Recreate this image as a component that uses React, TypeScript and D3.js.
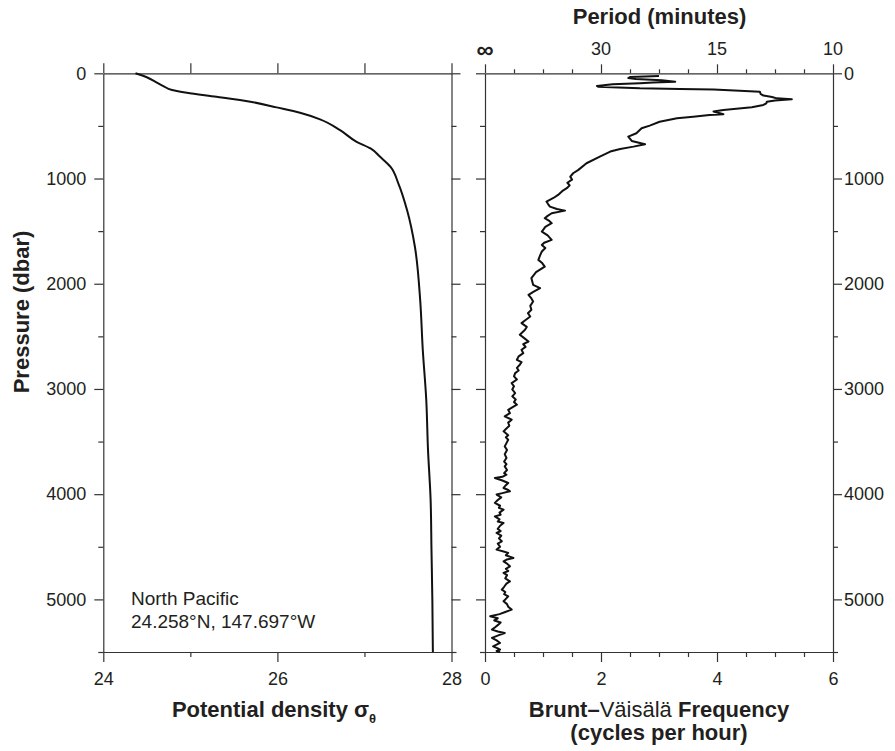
import React, { useEffect, useRef } from "react";
import * as d3 from "d3";

// ---------- data ----------
const sigmaPressure = [0, 38, 86, 121, 159, 185, 223, 270, 324, 375, 438, 540, 651, 714, 794, 889, 1048, 1302, 1651, 2153, 2628, 3102, 3577, 4052, 4527, 5002, 5500];
const sigmaTheta = [24.37, 24.5, 24.61, 24.69, 24.79, 24.96, 25.3, 25.69, 25.99, 26.26, 26.49, 26.72, 26.91, 27.07, 27.18, 27.3, 27.39, 27.49, 27.58, 27.64, 27.67, 27.71, 27.73, 27.76, 27.77, 27.78, 27.786];

const bvPressure = [
  25, 35, 45, 55, 65, 80, 88, 95, 105, 120, 127, 135, 143, 149, 155, 165, 175, 195, 212, 225, 238, 247, 258, 270, 285, 301, 323, 348, 364, 380, 389, 396, 412, 428, 460, 497, 522, 570, 602, 643, 675, 697, 719, 744, 792, 855, 918, 950, 982,
  1010, 1040, 1065, 1092, 1120, 1156, 1185, 1219, 1245, 1267, 1290, 1305, 1330, 1355, 1377, 1400, 1425, 1460, 1504, 1540, 1583, 1610, 1631, 1660, 1694, 1730, 1773, 1800, 1837, 1890, 1947, 2010, 2042, 2075, 2105, 2140, 2169, 2210, 2248, 2280, 2311, 2345, 2374, 2410, 2438,
  2485, 2510, 2549, 2575, 2600, 2628, 2660, 2690, 2723, 2745, 2770, 2800, 2825, 2849, 2880, 2910, 2944, 2975, 3005, 3039, 3070, 3100, 3125, 3150, 3175, 3198, 3230, 3261, 3292, 3320, 3350, 3380, 3403, 3440, 3460, 3483, 3515, 3546, 3580, 3620, 3656, 3690, 3715, 3736, 3770, 3800, 3815, 3835, 3846, 3870, 3894, 3920, 3941, 3960, 3973, 3990,
  4004, 4030, 4055, 4083, 4110, 4130, 4147, 4175, 4195, 4211, 4240, 4260, 4274, 4300, 4330, 4350, 4369, 4395, 4420, 4448, 4470, 4500, 4527, 4545, 4558, 4580, 4606, 4620, 4638, 4660, 4686, 4710, 4730, 4748, 4770, 4800, 4828, 4850, 4880, 4907, 4930, 4950, 4971, 4995,
  5018, 5045, 5070, 5097, 5120, 5140, 5160, 5180, 5200, 5220, 5240, 5262, 5287, 5305, 5319, 5340, 5366, 5390, 5414, 5430, 5446, 5465, 5477, 5490, 5500,
];
const bvFrequency = [
  3.0, 2.5, 2.47, 2.6, 3.05, 3.28, 2.9, 2.67, 2.2, 1.93, 1.95, 2.3, 2.67, 3.36, 3.94, 4.39, 4.74, 4.75, 4.8, 4.95, 5.03, 5.29, 5.0, 4.86, 4.85, 4.8, 4.6, 4.11, 3.94, 4.05, 4.11, 3.87, 3.59, 3.31, 3.01, 2.84, 2.7, 2.61, 2.47, 2.53, 2.76, 2.56, 2.33, 2.16, 1.98, 1.75, 1.61, 1.52, 1.47,
  1.5, 1.42, 1.46, 1.41, 1.33, 1.26, 1.18, 1.06, 1.09, 1.12, 1.24, 1.38, 1.15, 1.08, 1.03, 1.1, 1.15, 1.04, 0.98, 1.08, 1.15, 1.02, 0.98, 1.04, 0.98, 0.95, 0.92, 0.98, 1.03, 0.88, 0.8, 0.83, 0.95, 0.84, 0.75, 0.8, 0.83, 0.78, 0.8, 0.74, 0.78, 0.7, 0.63, 0.72, 0.69,
  0.6, 0.66, 0.75, 0.66, 0.7, 0.63, 0.66, 0.58, 0.55, 0.63, 0.6, 0.55, 0.58, 0.52, 0.5, 0.55, 0.46, 0.5, 0.47, 0.52, 0.47, 0.53, 0.5, 0.55, 0.47, 0.4, 0.43, 0.34, 0.46, 0.4, 0.42, 0.36, 0.32, 0.4, 0.36, 0.4, 0.37, 0.34, 0.38, 0.34, 0.37, 0.33, 0.37, 0.34, 0.38, 0.33, 0.37, 0.3, 0.17, 0.3, 0.4, 0.35, 0.32, 0.4, 0.43, 0.3,
  0.2, 0.28, 0.22, 0.17, 0.26, 0.24, 0.32, 0.25, 0.27, 0.17, 0.25, 0.22, 0.32, 0.26, 0.22, 0.27, 0.2, 0.28, 0.24, 0.29, 0.22, 0.26, 0.2, 0.32, 0.4, 0.36, 0.49, 0.38, 0.32, 0.38, 0.43, 0.36, 0.4, 0.32, 0.38, 0.35, 0.43, 0.37, 0.33, 0.29, 0.35, 0.33, 0.4, 0.36,
  0.32, 0.38, 0.4, 0.46, 0.35, 0.25, 0.09, 0.22, 0.16, 0.27, 0.23, 0.18, 0.12, 0.22, 0.34, 0.24, 0.12, 0.2, 0.26, 0.2, 0.14, 0.22, 0.26, 0.2, 0.26,
];

const pressureTicks = [0, 1000, 2000, 3000, 4000, 5000];
const densityTicks = [24, 26, 28];
const freqTicks = [0, 2, 4, 6];
const periodMinutes = [Infinity, 30, 15, 10];
const periodLabels = ["\u221E", "30", "15", "10"];
const noteLines = ["North Pacific", "24.258\u00B0N, 147.697\u00B0W"];

const FONT = "'Liberation Sans', Arial, Helvetica, sans-serif";
const INK = "#231f20";
const AX = "#333";

export default function App() {
  const ref = useRef<SVGSVGElement | null>(null);

  useEffect(() => {
    const svg = d3.select(ref.current);
    svg.selectAll("*").remove();

    const y = d3.scaleLinear().domain([0, 5500]).range([73.3, 652]);
    const xD = d3.scaleLinear().domain([24, 28]).range([103.3, 451.5]);
    const xN = d3.scaleLinear().domain([0, 6]).range([485, 833]);

    const pVals = d3.range(0, 5501, 500);
    const isMajorP = (d: number) => pressureTicks.includes(d);

    const styleAxis = (g: any) => {
      g.attr("font-family", FONT).attr("font-size", 18);
      g.selectAll(".domain").attr("stroke", AX).attr("stroke-width", 1.2);
      g.selectAll(".tick line").attr("stroke", AX).attr("stroke-width", 1.2);
      g.selectAll(".tick text").attr("fill", INK);
    };

    // vertical axes
    const vAxis = (x: number, left: boolean, labels: boolean) => {
      const ax = (left ? d3.axisLeft(y) : d3.axisRight(y))
        .tickValues(pVals)
        .tickSizeInner(9)
        .tickSizeOuter(0)
        .tickPadding(8)
        .tickFormat((d: any) => (labels && isMajorP(d) ? String(d) : ""));
      const g = svg.append("g").attr("transform", `translate(${x},0)`).call(ax as any);
      styleAxis(g);
      g.selectAll(".tick")
        .filter((d: any) => !isMajorP(d))
        .select("line")
        .attr("x2", left ? -5 : 5);
      return g;
    };
    vAxis(xD(24), true, true);
    vAxis(xD(28), false, false);
    vAxis(xN(0), true, false);
    const rg = vAxis(xN(6), false, true);
    rg.selectAll(".tick text").attr("x", 11).attr("text-anchor", "start");

    // horizontal axes, left panel
    const dTop = d3.axisTop(xD).tickValues(d3.range(24, 28.01, 1)).tickSizeInner(10).tickSizeOuter(0).tickFormat(() => "");
    styleAxis(svg.append("g").attr("transform", `translate(0,${y(0)})`).call(dTop as any));
    const dBot = d3.axisBottom(xD).tickValues(d3.range(24, 28.01, 1)).tickSizeInner(10).tickSizeOuter(0).tickPadding(10)
      .tickFormat((d: any) => (densityTicks.includes(d) ? String(d) : ""));
    const gdb = svg.append("g").attr("transform", `translate(0,${y(5500)})`).call(dBot as any);
    styleAxis(gdb);
    gdb.selectAll(".tick").filter((d: any) => !densityTicks.includes(d)).select("line").attr("y2", 5);

    // horizontal axes, right panel
    const nVals = d3.range(0, 6.01, 0.5);
    const nTop = d3.axisTop(xN).tickValues(nVals).tickSizeInner(9).tickSizeOuter(0).tickFormat(() => "");
    const gnt = svg.append("g").attr("transform", `translate(0,${y(0)})`).call(nTop as any);
    styleAxis(gnt);
    gnt.selectAll(".tick").filter((d: any) => !freqTicks.includes(d)).select("line").attr("y2", -4);
    const nBot = d3.axisBottom(xN).tickValues(nVals).tickSizeInner(10).tickSizeOuter(0).tickPadding(10)
      .tickFormat((d: any) => (freqTicks.includes(d) ? String(d) : ""));
    const gnb = svg.append("g").attr("transform", `translate(0,${y(5500)})`).call(nBot as any);
    styleAxis(gnb);
    gnb.selectAll(".tick").filter((d: any) => !freqTicks.includes(d)).select("line").attr("y2", 5);

    // period labels (top of right panel)
    periodMinutes.forEach((T, i) => {
      const f = T === Infinity ? 0 : 60 / T;
      const isInf = T === Infinity;
      svg.append("text")
        .attr("x", xN(f))
        .attr("y", isInf ? 58 : 55)
        .attr("text-anchor", "middle")
        .attr("font-family", FONT)
        .attr("font-size", isInf ? 24 : 18)
        .attr("font-weight", isInf ? "bold" : "normal")
        .attr("fill", INK)
        .text(periodLabels[i]);
    });

    // curves
    const densLine = d3.line<number>()
      .x((_, i) => xD(sigmaTheta[i]))
      .y((d) => y(d))
      .curve(d3.curveMonotoneY);
    svg.append("path").attr("d", densLine(sigmaPressure) as string)
      .attr("fill", "none").attr("stroke", "#111").attr("stroke-width", 2).attr("stroke-linejoin", "round");

    const bvLine = d3.line<number>()
      .x((_, i) => xN(bvFrequency[i]))
      .y((d) => y(d));
    svg.append("path").attr("d", bvLine(bvPressure) as string)
      .attr("fill", "none").attr("stroke", "#111").attr("stroke-width", 2).attr("stroke-linejoin", "round");

    // annotation
    noteLines.forEach((t, i) => {
      svg.append("text").attr("x", 131).attr("y", 605 + i * 23)
        .attr("font-family", FONT).attr("font-size", 19).attr("fill", INK).text(t);
    });

    // titles
    const title = (x: number, yy: number) =>
      svg.append("text").attr("x", x).attr("y", yy).attr("text-anchor", "middle")
        .attr("font-family", FONT).attr("font-size", 22).attr("font-weight", "bold").attr("fill", INK);

    title(659.5, 24).text("Period (minutes)");

    const pd = title(274, 717);
    pd.append("tspan").text("Potential density ");
    pd.append("tspan").attr("font-size", 22).text("\u03C3");
    pd.append("tspan").attr("font-size", 13).attr("dy", 6).text("\u03B8");

    const bv = title(659, 717);
    bv.append("tspan").text("Brunt\u2013");
    bv.append("tspan").attr("font-weight", "normal").text("V\u00E4is\u00E4l\u00E4");
    bv.append("tspan").text(" Frequency");
    title(659, 740).text("(cycles per hour)");

    svg.append("text")
      .attr("transform", `translate(29,312) rotate(-90)`)
      .attr("text-anchor", "middle")
      .attr("font-family", FONT).attr("font-size", 22).attr("font-weight", "bold").attr("fill", INK)
      .text("Pressure (dbar)");
  }, []);

  return (
    <svg
      ref={ref}
      width={895}
      height={751}
      style={{ position: "absolute", left: 0, top: 0, background: "#fff" }}
    />
  );
}
